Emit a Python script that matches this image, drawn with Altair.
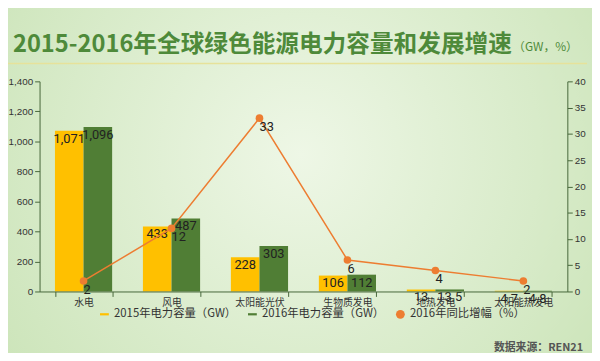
import altair as alt
import pandas as pd

categories = ["水电", "风电", "太阳能光伏", "生物质发电", "地热发电", "太阳能热发电"]
cap_2015 = [1071, 433, 228, 106, 13, 4.7]
cap_2016 = [1096, 487, 303, 112, 13.5, 4.8]
growth_2016 = [2, 12, 33, 6, 4, 2]
series_names = ["2015年电力容量（GW）", "2016年电力容量（GW）", "2016年同比增幅（%）"]
colors = ["#FFC000", "#507E35", "#ED7D31"]
title_main = "2015-2016年全球绿色能源电力容量和发展增速"
title_unit = "（GW，%）"
source_text = "数据来源：REN21"

def fmt(v):
    if float(v).is_integer():
        return f"{int(v):,}"
    return f"{v}"

bars = pd.DataFrame(
    [{"cat": c, "series": series_names[0], "value": v, "label": fmt(v)} for c, v in zip(categories, cap_2015)]
    + [{"cat": c, "series": series_names[1], "value": v, "label": fmt(v)} for c, v in zip(categories, cap_2016)]
)
pct = pd.DataFrame({"cat": categories, "series": series_names[2], "pct": growth_2016,
                    "label": [str(v) for v in growth_2016]})

FONT = "Noto Sans CJK SC"
AX = "#46663A"

xenc = alt.X("cat:N", sort=categories, title=None,
             scale=alt.Scale(paddingInner=0.35, paddingOuter=0.175),
             axis=alt.Axis(labelAngle=0, labelFontSize=10, labelColor="#333333", labelFont=FONT,
                           domainColor=AX, tickColor=AX, tickBand="extent", tickSize=5, labelPadding=1,
                           zindex=2))

color_scale = alt.Scale(domain=series_names, range=colors)
shape_scale = alt.Scale(domain=series_names,
                        range=["M-1,-0.25H1V0.25H-1Z", "M-1,-0.25H1V0.25H-1Z", "circle"])

legend = alt.Legend(title=None, orient="none", legendX=60, legendY=230, direction="horizontal",
                    labelFontSize=11.5, labelColor="#333333", labelFont=FONT, symbolSize=80,
                    symbolStrokeWidth=0, columnPadding=10, labelLimit=300, zindex=2)

deco = pd.DataFrame({"t": [source_text], "tm": [title_main], "tu": [title_unit]})
bg = alt.Chart(deco).mark_rect(color=alt.Gradient(
    gradient="radial", x1=0.5, y1=0.45, r1=0, x2=0.5, y2=0.45, r2=0.75,
    stops=[alt.GradientStop(offset=0, color="#EEF7E6"), alt.GradientStop(offset=1, color="#C4E0AF")])).encode(
    x=alt.value(-40), x2=alt.value(570), y=alt.value(-80), y2=alt.value(290))

yl_axis = alt.Axis(values=list(range(0, 1401, 200)), format=",.0f", labelFontSize=10,
                   labelColor="#333333", domainColor=AX, tickColor=AX, tickSize=5, grid=False, zindex=2)

bar_layer = alt.Chart(bars).mark_bar().encode(
    x=xenc,
    xOffset=alt.XOffset("series:N", sort=series_names[:2]),
    y=alt.Y("value:Q", title=None, scale=alt.Scale(domain=[0, 1400]), axis=yl_axis),
    color=alt.Color("series:N", scale=color_scale, legend=legend),
)

bar_text = alt.Chart(bars).mark_text(baseline="top", dy=2, fontSize=13, color="#222222",
                                     font="Roboto").encode(
    x=xenc,
    xOffset=alt.XOffset("series:N", sort=series_names[:2]),
    y=alt.Y("value:Q", title=None, scale=alt.Scale(domain=[0, 1400]), axis=yl_axis),
    text="label:N",
)

bars_all = alt.layer(bar_layer, bar_text)

yr_axis = alt.Axis(orient="right", values=list(range(0, 41, 5)), labelFontSize=10,
                   labelColor="#333333", domainColor=AX, tickColor=AX, tickSize=5, grid=False, zindex=2)
yr = alt.Y("pct:Q", title=None, scale=alt.Scale(domain=[0, 40]), axis=yr_axis)

line = alt.Chart(pct).mark_line(color="#ED7D31", strokeWidth=1.5).encode(x=xenc, y=yr)
pts = alt.Chart(pct).mark_point(filled=True, size=60, opacity=1).encode(
    x=xenc, y=yr,
    color=alt.Color("series:N", scale=color_scale, legend=legend),
    shape=alt.Shape("series:N", scale=shape_scale, legend=legend),
)
pct_text = alt.Chart(pct).mark_text(baseline="top", align="left", dx=0, dy=3, fontSize=13,
                                    color="#222222", font="Roboto").encode(
    x=xenc, y=yr, text="label:N")
line_all = alt.layer(line, pts, pct_text)

source = alt.Chart(deco).mark_text(align="right", baseline="middle", fontSize=11, color="#555555",
                                   font=FONT, fontWeight="bold").encode(
    x=alt.value(551), y=alt.value(270), text="t:N")
topline = alt.Chart(deco).mark_rule(color="#E6E29A", strokeWidth=1.5).encode(
    x=alt.value(-35), x2=alt.value(555), y=alt.value(-18))
t_main = alt.Chart(deco).mark_text(align="left", baseline="middle", fontSize=24, font=FONT,
                                   fontWeight="bold", color="#4E8A3A").encode(
    x=alt.value(-27), y=alt.value(-37), text="tm:N")
t_unit = alt.Chart(deco).mark_text(align="left", baseline="middle", fontSize=12, font=FONT,
                                   color="#4E8A3A").encode(
    x=alt.value(480), y=alt.value(-35), text="tu:N")

chart = alt.layer(bg, bars_all, line_all, source, topline, t_main, t_unit).resolve_scale(
    y="independent").properties(
    width=535, height=213,
    autosize=alt.AutoSizeParams(type="none"),
    padding={"left": 32, "top": 72, "right": 25, "bottom": 60},
    background="#C4E0AF",
).configure_view(stroke=None)

chart.save("out.html", embed_options={"renderer": "svg", "actions": False})
